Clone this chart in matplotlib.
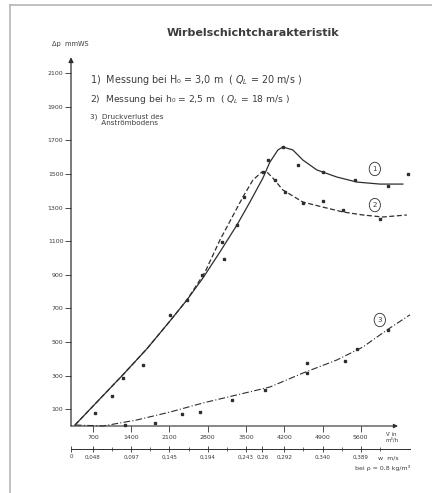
import matplotlib
matplotlib.use("Agg")
import matplotlib.pyplot as plt
from matplotlib.lines import Line2D

# ---- data ----
# upper x axis: air flow, lower x axis: velocity
x_ticks = [700, 1400, 2100, 2800, 3500, 4200, 4900, 5600]
x_ticklabels = ["700", "1400", "2100", "2800", "3500", "4200", "4900", "5600"]
w_ticks = [300, 700, 1400, 2100, 2800, 3500, 3800, 4200, 4900, 5600]
w_ticklabels = ["0", "0,048", "0,097", "0,145", "0,194", "0,243", "0,26", "0,292", "0,340", "0,389"]
w_minor = [1050, 1750, 2450, 3150, 4550, 5250, 5950]
y_ticks = [100, 300, 500, 700, 900, 1100, 1300, 1500, 1700, 1900, 2100]

# curve 1 (H0 = 3,0 m), solid
c1_x = [373, 1250, 1689, 2110, 2420, 2713, 3024, 3334, 3572, 3810, 3938, 4084, 4175,
        4358, 4541, 4797, 5162, 5528, 5948, 6369]
c1_y = [6, 305, 460, 625, 750, 881, 1036, 1196, 1333, 1476, 1571, 1643, 1661,
        1643, 1583, 1524, 1482, 1452, 1440, 1440]
# curve 2 (h0 = 2,5 m), dashed
c2_x = [373, 1250, 1689, 2110, 2420, 2750, 3024, 3444, 3627, 3791, 3883, 3992, 4175,
        4541, 4907, 5272, 5638, 6003, 6442]
c2_y = [6, 305, 460, 625, 750, 915, 1107, 1363, 1464, 1512, 1512, 1476, 1405,
        1333, 1303, 1274, 1256, 1244, 1256]
# curve 3 (pressure loss of distributor), dash-dot
c3_x = [373, 885, 1506, 2110, 2713, 3334, 3938, 4541, 5162, 5638, 6076, 6500]
c3_y = [6, 0, 36, 83, 137, 185, 232, 315, 393, 470, 571, 662]

# measured points
p1_x = [739, 1049, 1250, 1616, 2110, 2420, 2695, 3097, 3060, 3334, 3462,
        3901, 4175, 4450, 4907, 5491, 6095, 6460]
p1_y = [77, 179, 286, 363, 661, 750, 899, 994, 1095, 1196, 1363,
        1583, 1661, 1553, 1512, 1464, 1428, 1500]
p2_x = [3810, 4029, 4212, 4541, 4907, 5272, 5948]
p2_y = [1512, 1464, 1393, 1327, 1339, 1286, 1232]
p3_x = [1287, 1836, 2329, 2658, 3243, 3846, 4614, 4614, 5309, 5528, 6095]
p3_y = [6, 18, 71, 83, 155, 214, 375, 315, 387, 458, 571]

ink = "#2e2e2e"
txt = "#3c3c3c"

fig = plt.figure(figsize=(4.32, 4.93), dpi=100)
W, H = 432, 493
ax = fig.add_axes([71 / W, (H - 426) / H, (410 - 71) / W, (426 - 56.4) / H])
ax.set_xlim(300, 6500)
ax.set_ylim(0, 2200)
for s in ax.spines.values():
    s.set_visible(False)

# axis arrows
ax.annotate("", xy=(6280, 0), xytext=(300, 0),
            arrowprops=dict(arrowstyle="-|>", lw=0.8, color=ink, mutation_scale=6,
                            shrinkA=0, shrinkB=0), annotation_clip=False)
ax.annotate("", xy=(300, 2195), xytext=(300, 0),
            arrowprops=dict(arrowstyle="-|>", lw=0.9, color=ink, mutation_scale=7,
                            shrinkA=0, shrinkB=0), annotation_clip=False)

ax.set_xticks(x_ticks, labels=x_ticklabels)
ax.tick_params(axis="x", direction="out", length=4, width=0.6, color=ink,
               labelsize=4.5, labelcolor=txt, pad=2.5)
ax.set_yticks(y_ticks, labels=[str(v) for v in y_ticks])
ax.tick_params(axis="y", direction="out", length=4, width=0.6, color=ink,
               labelsize=4.5, labelcolor=txt, pad=1.5)

sec = ax.secondary_xaxis(-0.062)
sec.set_xticks(w_ticks, labels=w_ticklabels)
sec.set_xticks(w_minor, minor=True)
sec.spines["bottom"].set_color(ink)
sec.spines["bottom"].set_linewidth(0.7)
sec.tick_params(axis="x", which="major", direction="inout", length=5, width=0.6,
                color=ink, labelsize=4.1, labelcolor=txt, pad=1.5)
sec.tick_params(axis="x", which="minor", direction="inout", length=3, width=0.5, color=ink)

# curves
ax.plot(c1_x, c1_y, color=ink, lw=0.9, clip_on=False)
ax.plot(c2_x, c2_y, color=ink, lw=0.9, dashes=(4, 2), clip_on=False)
ax.plot(c3_x, c3_y, color=ink, lw=0.8, dashes=(6, 2, 1, 2), clip_on=False)

ax.plot(p1_x, p1_y, ls="none", marker="s", ms=2.0, color=ink, clip_on=False)
ax.plot(p2_x, p2_y, ls="none", marker="s", ms=2.0, color=ink, clip_on=False)
ax.plot(p3_x, p3_y, ls="none", marker="s", ms=2.0, color=ink, clip_on=False)

circ = dict(boxstyle="ellipse,pad=0.25", fc="white", ec=ink, lw=0.6)
ax.text(5857, 1530, "1", fontsize=5, color=txt, ha="center", va="center", bbox=circ)
ax.text(5857, 1315, "2", fontsize=5, color=txt, ha="center", va="center", bbox=circ)
ax.text(5948, 631, "3", fontsize=5, color=txt, ha="center", va="center", bbox=circ)

# figure texts (pixel positions converted to figure fractions)
def ftext(x, y, s, **kw):
    fig.text(x / W, 1 - y / H, s, color=txt, **kw)

ftext(253, 33, "Wirbelschichtcharakteristik", fontsize=8, ha="center", va="center",
      fontweight="bold")
ftext(52, 44, "Δp  mmWS", fontsize=4.8, ha="left", va="center")
ftext(90, 80, r"1)  Messung bei H₀ = 3,0 m  ( $Q_L$ = 20 m/s )", fontsize=6.9, ha="left", va="center")
ftext(90, 100, r"2)  Messung bei h₀ = 2,5 m  ( $Q_L$ = 18 m/s )", fontsize=6.6, ha="left", va="center")
ftext(90, 120, "3)  Druckverlust des\n     Anströmbodens", fontsize=5.2, ha="left", va="center",
      linespacing=1.0)
ftext(386, 437, "V̇ in\nm³/h", fontsize=4.0, ha="left", va="center", linespacing=1.0)
ftext(378, 458, "w  m/s", fontsize=4.5, ha="left", va="center")
ftext(410, 468, "bei ρ = 0,8 kg/m³", fontsize=4.5, ha="right", va="center")

# scan frame
fig.add_artist(Line2D([10 / W, 10 / W], [0, 1 - 5 / H], transform=fig.transFigure,
                      color="#b5b5b5", lw=1.2))
fig.add_artist(Line2D([10 / W, 1], [1 - 5 / H, 1 - 5 / H], transform=fig.transFigure,
                      color="#b5b5b5", lw=1.2))

fig.savefig("out.png", dpi=100)
